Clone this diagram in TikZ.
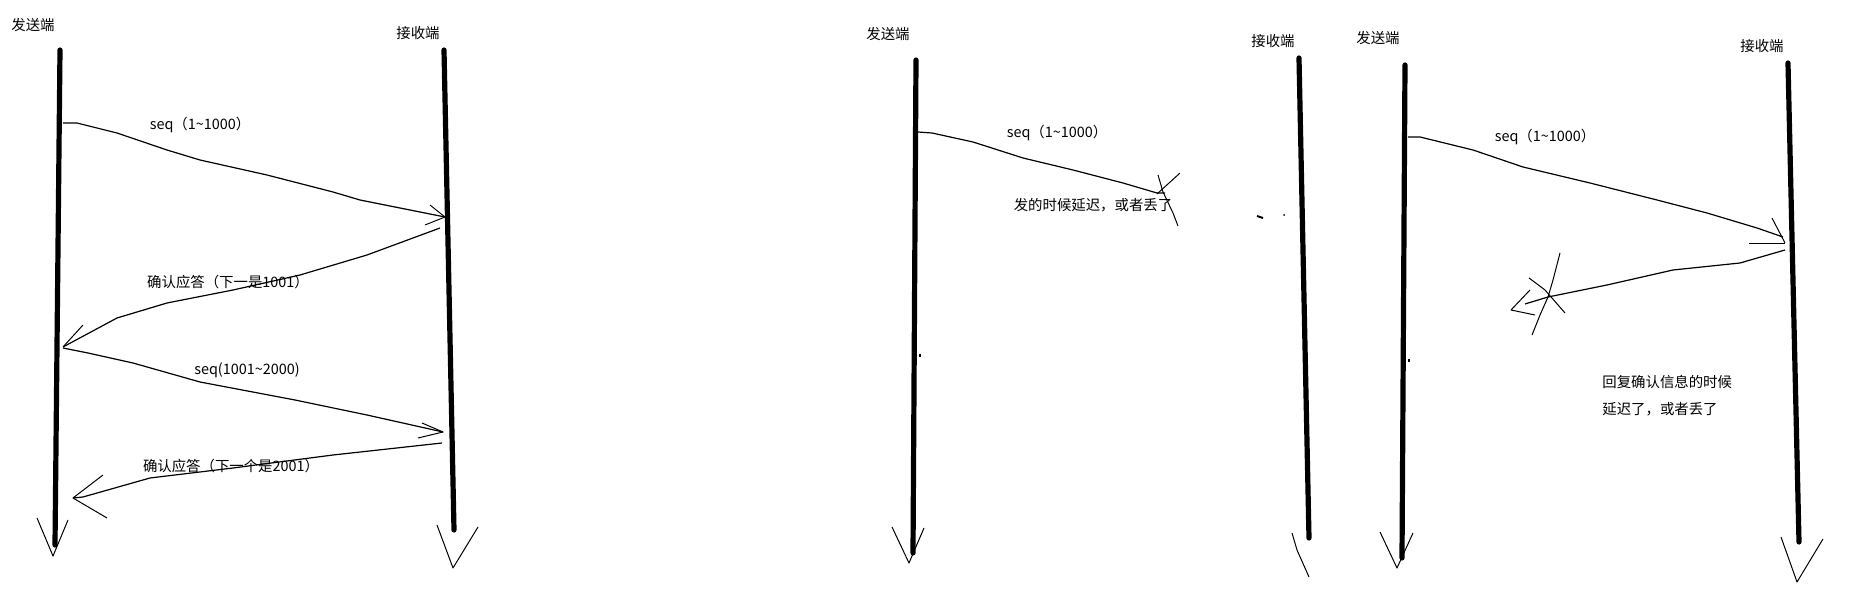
\documentclass[tikz,border=0pt]{standalone}
\usepackage{fontspec}
\newfontfamily\cjk{Noto Sans CJK SC}
\tikzset{
  life/.style={line width=2.6pt, line cap=round},
  msg/.style={line width=0.6pt, line join=round},
  barb/.style={line width=0.5pt, line join=round},
  lbl/.style={font=\cjk\fontsize{7.2pt}{8.6pt}\selectfont, inner sep=0pt},
  speck/.style={line width=1pt},
}
\begin{document}
\begin{tikzpicture}[x=0.5pt,y=-0.5pt]
\useasboundingbox (0,0) rectangle (1860,609);

%% ---------------- diagram 1 ----------------
\node[lbl] (snd1) at (33,25) {发送端};
\node[lbl] (rcv1) at (418,33) {接收端};
\coordinate (s1t) at (60,50);   \coordinate (s1b) at (55,545);
\coordinate (r1t) at (444,50);  \coordinate (r1b) at (454,530);
\draw[life] (s1t) -- (s1b);
\draw[life] (r1t) -- (r1b);
% lifeline arrow heads
\coordinate (s1tip) at (53,556);
\draw[barb] (37,518) -- (s1tip) -- (68,520);
\coordinate (r1tip) at (453,568);
\draw[barb] (437,525) -- (r1tip) -- (478,527);

% message 1
\coordinate (m1a) at (63,123); \coordinate (m1b) at (445,217);
\draw[msg] (m1a) -- (77,123) -- (117,133) -- (167,150) -- (200,160) -- (267,175) -- (333,192) -- (360,200) -- (m1b);
\draw[barb] (430,205) -- (m1b) -- (425,225);
\node[lbl] (l1) at (200,125) {seq（1\textasciitilde1000）};

% ack 1
\coordinate (a1a) at (440,228); \coordinate (a1b) at (63,347);
\draw[msg] (a1a) -- (367,255) -- (300,275) -- (233,290) -- (167,303) -- (117,318) -- (a1b);
\draw[barb] (83,325) -- (a1b);
\node[lbl] (l2) at (228,282) {确认应答（下一是1001）};

% message 2
\coordinate (m2a) at (63,348); \coordinate (m2b) at (443,432);
\draw[msg] (m2a) -- (88,353) -- (133,363) -- (200,382) -- (295,400) -- (367,415) -- (m2b);
\draw[barb] (422,423) -- (m2b) -- (418,438);
\node[lbl] (l3) at (247,370) {seq(1001\textasciitilde2000)};

% ack 2
\coordinate (a2a) at (442,443); \coordinate (a2b) at (73,498);
\draw[msg] (a2a) -- (333,455) -- (233,468) -- (150,478) -- (83,497) -- (a2b);
\draw[barb] (103,475) -- (a2b) -- (107,518);
\node[lbl] (l4) at (231,466) {确认应答（下一个是2001）};

%% ---------------- diagram 2 ----------------
\node[lbl] (snd2) at (888,34) {发送端};
\node[lbl] (rcv2) at (1273,41) {接收端};
\coordinate (s2t) at (916,60);   \coordinate (s2b) at (913,553);
\coordinate (r2t) at (1299,58);  \coordinate (r2b) at (1309,538);
\draw[life] (s2t) -- (s2b);
\draw[life] (r2t) -- (r2b);
\coordinate (s2tip) at (909,563);
\draw[barb] (892,527) -- (s2tip) -- (924,528);
\coordinate (r2tip) at (1309,577);
\draw[barb] (1292,533) -- (1297,550) -- (r2tip);

\coordinate (m3a) at (918,132); \coordinate (m3b) at (1165,193);
\draw[msg] (m3a) -- (932,133) -- (973,142) -- (1023,158) -- (1073,170) -- (1123,183) -- (1157,193) -- (m3b);
\node[lbl] (l5) at (1057,133) {seq（1\textasciitilde1000）};
\coordinate (x2a) at (1158,175); \coordinate (x2b) at (1178,226);
\coordinate (x2c) at (1180,173); \coordinate (x2d) at (1157,194);
\draw[barb] (x2a) -- (1163,192) -- (1173,213) -- (x2b);
\draw[barb] (x2c) -- (x2d);
\node[lbl] (l6) at (1093,205) {发的时候延迟，或者丢了};
% small specks
\draw[speck] (1257,216) -- (1263,218);
\fill (1284,215) circle (1);
\fill (919,354) rectangle (921,357);

%% ---------------- diagram 3 ----------------
\node[lbl] (snd3) at (1378,38) {发送端};
\node[lbl] (rcv3) at (1762,46) {接收端};
\coordinate (s3t) at (1405,65);   \coordinate (s3b) at (1402,558);
\coordinate (r3t) at (1788,63);   \coordinate (r3b) at (1799,542);
\draw[life] (s3t) -- (s3b);
\draw[life] (r3t) -- (r3b);
\coordinate (s3tip) at (1397,568);
\draw[barb] (1380,532) -- (s3tip) -- (1413,533);
\coordinate (r3tip) at (1797,582);
\draw[barb] (1781,537) -- (r3tip) -- (1823,539);

\coordinate (m4a) at (1408,137); \coordinate (m4b) at (1783,237);
\draw[msg] (m4a) -- (1420,137) -- (1473,150) -- (1523,167) -- (1590,183) -- (1657,200) -- (1707,213) -- (1757,228) -- (m4b);
\draw[barb] (1772,218) -- (1785,243);
\draw[barb] (1749,244) -- (1785,244);
\node[lbl] (l7) at (1545,137) {seq（1\textasciitilde1000）};

\coordinate (a3a) at (1785,250); \coordinate (a3b) at (1511,310);
\draw[msg] (a3a) -- (1740,263) -- (1673,270) -- (1607,285) -- (1548,297) -- (1525,304);
\draw[barb] (1530,290) -- (a3b) -- (1535,315);
\coordinate (x3a) at (1560,253); \coordinate (x3b) at (1532,335);
\coordinate (x3c) at (1529,278); \coordinate (x3d) at (1565,313);
\draw[barb] (x3a) -- (1553,280) -- (1548,297) -- (1540,315) -- (x3b);
\draw[barb] (x3c) -- (1545,290) -- (x3d);
\fill (1408,359) rectangle (1410,362);

\node[lbl, anchor=west] (l8) at (1602,382) {回复确认信息的时候};
\node[lbl, anchor=west] (l9) at (1602,409) {延迟了，或者丢了};
\end{tikzpicture}
\end{document}
